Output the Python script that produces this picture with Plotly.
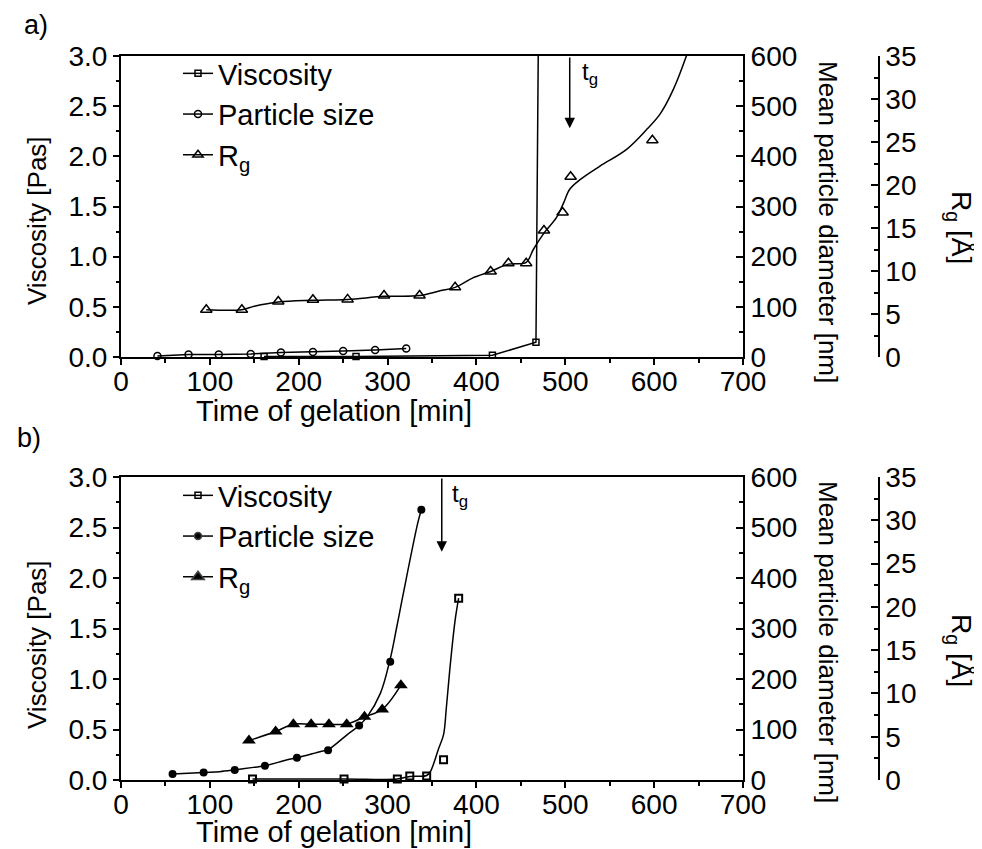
import plotly.graph_objects as go

# ---------------- Panel a data ----------------
a_visc_t = [161, 264.5, 418, 467]
a_visc_v = [0.005, 0.005, 0.017, 0.147]
a_visc_line_t = [161, 264.5, 418, 467, 470]
a_visc_line_v = [0.005, 0.005, 0.017, 0.147, 3.5]

a_size_t = [41, 76, 110, 146, 180, 216, 250, 286, 321]
a_size_d = [2, 5, 5, 6, 9, 10, 12, 14, 17]

a_rg_t = [96, 136, 177, 216, 255, 296, 336, 376, 416, 436, 456, 476, 497, 506, 598]
a_rg_r = [5.5, 5.5, 6.45, 6.65, 6.7, 7.15, 7.15, 8.1, 9.95, 10.9, 10.9, 14.7, 16.8, 20.95, 25.2]
a_rg_fit_t = [96, 136, 150, 177, 216, 255, 296, 336, 359, 376, 396, 416, 436, 456, 464, 476,
              490, 498, 505, 517, 539, 569, 592, 607, 622, 639]
a_rg_fit_r = [5.5, 5.5, 5.9, 6.4, 6.6, 6.7, 7.05, 7.15, 7.7, 8.1, 9.2, 9.95, 10.8, 11.0, 12.5, 14.4,
              16.2, 17.9, 19.5, 20.65, 22.2, 24.15, 26.5, 28.3, 31.2, 35.8]

# ---------------- Panel b data ----------------
b_visc_t = [148, 251, 311, 325, 344, 363, 380]
b_visc_v = [0.01, 0.01, 0.01, 0.04, 0.04, 0.2, 1.8]
b_visc_line_t = [148, 251, 311, 325, 344, 348, 352, 357, 363, 366, 370, 376, 380]
b_visc_line_v = [0.01, 0.01, 0.01, 0.035, 0.045, 0.08, 0.165, 0.3, 0.45, 0.7, 1.09, 1.58, 1.8]

b_size_t = [58, 93, 128, 162, 198, 233, 268, 303, 338]
b_size_d = [12, 15, 20, 28, 44, 59, 108, 234, 535]
b_size_line_t = [58, 93, 111, 128, 149, 162, 187, 198, 224, 233, 254, 268, 277, 292, 303, 310, 317, 334, 338]
b_size_line_d = [12, 15, 16.5, 20, 25, 28, 40, 44, 56, 60, 89, 108, 125, 172, 240, 300, 363, 509, 535]

b_rg_t = [144, 174, 194, 214, 234, 254, 274, 294, 315]
b_rg_r = [4.55, 5.6, 6.45, 6.45, 6.45, 6.45, 7.3, 8.15, 10.95]

x_ticks = [0, 100, 200, 300, 400, 500, 600, 700]

FONT = "Liberation Sans, Arial, sans-serif"
TICK = 28
BLACK = "black"

# the page body adds an 8px margin, so the figure is drawn 8px smaller and
# all page-pixel positions below are shifted by that offset
OFF = 8
W, H = 982 - OFF, 849 - OFF
def px(x):
    return (x - OFF) / W
def py(y):
    return 1 - (y - OFF) / H

X_DOM = [px(121), px(743)]
A_DOM = [py(357), py(56)]
B_DOM = [py(780), py(477)]
RG_POS = px(879)

fig = go.Figure()

line_style = dict(color=BLACK, width=1.5)

# ---- panel a traces ----
fig.add_trace(go.Scatter(x=a_visc_line_t, y=a_visc_line_v, mode="lines", line=line_style,
                         xaxis="x", yaxis="y", showlegend=False, hoverinfo="skip"))
fig.add_trace(go.Scatter(x=a_visc_t, y=a_visc_v, mode="markers", name="Viscosity",
                         marker=dict(symbol="square-open", size=6, color=BLACK, line=dict(width=1.5)),
                         xaxis="x", yaxis="y", showlegend=False, cliponaxis=False))
fig.add_trace(go.Scatter(x=a_size_t, y=a_size_d, mode="lines+markers", name="Particle size",
                         line=line_style,
                         marker=dict(symbol="circle-open", size=7, color=BLACK, line=dict(width=1.5)),
                         xaxis="x", yaxis="y2", showlegend=False, cliponaxis=False))
fig.add_trace(go.Scatter(x=a_rg_fit_t, y=a_rg_fit_r, mode="lines", line=line_style,
                         xaxis="x", yaxis="y3", showlegend=False, hoverinfo="skip", line_shape="spline"))
fig.add_trace(go.Scatter(x=a_rg_t, y=a_rg_r, mode="markers", name="R<sub>g</sub>",
                         marker=dict(symbol="triangle-up-open", size=10, color=BLACK, line=dict(width=1.5)),
                         xaxis="x", yaxis="y3", showlegend=False))

# legend entries panel a
for nm, sym, sz in [("Viscosity", "square-open", 6), ("Particle size", "circle-open", 7),
                    ("R<sub>g</sub>", "triangle-up-open", 9)]:
    fig.add_trace(go.Scatter(x=[None], y=[None], mode="lines+markers", name=nm, line=line_style,
                             marker=dict(symbol=sym, size=sz, color=BLACK, line=dict(width=1.5)),
                             xaxis="x", yaxis="y", legend="legend", showlegend=True))

# ---- panel b traces ----
fig.add_trace(go.Scatter(x=b_visc_line_t, y=b_visc_line_v, mode="lines", line=line_style,
                         xaxis="x2", yaxis="y4", showlegend=False, hoverinfo="skip", line_shape="spline"))
fig.add_trace(go.Scatter(x=b_visc_t, y=b_visc_v, mode="markers", name="Viscosity",
                         marker=dict(symbol="square-open", size=7, color=BLACK, line=dict(width=2)),
                         xaxis="x2", yaxis="y4", showlegend=False, cliponaxis=False))
fig.add_trace(go.Scatter(x=b_size_line_t, y=b_size_line_d, mode="lines", line=line_style,
                         xaxis="x2", yaxis="y5", showlegend=False, hoverinfo="skip", line_shape="spline"))
fig.add_trace(go.Scatter(x=b_size_t, y=b_size_d, mode="markers", name="Particle size",
                         marker=dict(symbol="circle", size=8, color=BLACK),
                         xaxis="x2", yaxis="y5", showlegend=False))
fig.add_trace(go.Scatter(x=b_rg_t, y=b_rg_r, mode="lines+markers", name="R<sub>g</sub>",
                         line=line_style, line_shape="spline",
                         marker=dict(symbol="triangle-up", size=12, color=BLACK),
                         xaxis="x2", yaxis="y6", showlegend=False))

for nm, sym, sz in [("Viscosity", "square-open", 6), ("Particle size", "circle", 7),
                    ("R<sub>g</sub>", "triangle-up", 11)]:
    fig.add_trace(go.Scatter(x=[None], y=[None], mode="lines+markers", name=nm, line=line_style,
                             marker=dict(symbol=sym, size=sz, color=BLACK, line=dict(width=1.5)),
                             xaxis="x2", yaxis="y4", legend="legend2", showlegend=True))

tickfont = dict(family=FONT, size=TICK, color=BLACK)

def xaxis_cfg(anchor):
    return dict(domain=X_DOM, anchor=anchor, range=[0, 700], tickvals=x_ticks,
                ticks="outside", ticklen=6, tickwidth=1.5, tickcolor=BLACK,
                minor=dict(dtick=50, ticks="outside", ticklen=4, tickwidth=1.5, tickcolor=BLACK),
                showline=True, linecolor=BLACK, linewidth=2, mirror=True, automargin=False,
                showgrid=False, zeroline=False, tickfont=tickfont, fixedrange=True)

def left_cfg(dom, anchor):
    return dict(domain=dom, anchor=anchor, range=[0, 3], dtick=0.5, tickformat=".1f",
                ticks="outside", ticklen=6, tickwidth=1.5, tickcolor=BLACK,
                minor=dict(dtick=0.25, ticks="outside", ticklen=3, tickwidth=1.5, tickcolor=BLACK),
                showline=True, linecolor=BLACK, linewidth=2, showgrid=False, zeroline=False,
                automargin=False, tickfont=tickfont)

def diam_cfg(over, anchor):
    return dict(overlaying=over, anchor=anchor, side="right", range=[0, 600], dtick=100,
                ticks="inside", ticklen=7, tickwidth=1.5, tickcolor=BLACK,
                minor=dict(dtick=50, ticks="inside", ticklen=4, tickwidth=1.5, tickcolor=BLACK),
                showline=True, linecolor=BLACK, linewidth=2, showgrid=False, zeroline=False,
                automargin=False, tickfont=tickfont)

def rg_cfg(over):
    return dict(overlaying=over, anchor="free", position=RG_POS, side="right", range=[0, 35], dtick=5,
                ticks="inside", ticklen=7, tickwidth=1.5, tickcolor=BLACK,
                minor=dict(dtick=2.5, ticks="inside", ticklen=4, tickwidth=1.5, tickcolor=BLACK),
                showline=True, linecolor=BLACK, linewidth=1.5, showgrid=False, zeroline=False,
                automargin=False, tickfont=tickfont)

annots = []
def add_text(text, x, y, size=27, angle=0, xanchor="center", yanchor="middle"):
    annots.append(dict(text=text, x=px(x), y=py(y), xref="paper", yref="paper", showarrow=False,
                       textangle=angle, xanchor=xanchor, yanchor=yanchor,
                       font=dict(family=FONT, size=size, color=BLACK)))

# panel labels
add_text("a)", 36, 25, size=27)
add_text("b)", 29, 438, size=27)
# axis titles panel a
add_text("Time of gelation [min]", 334, 411, size=29)
add_text("Viscosity [Pas]", 37, 221, size=26, angle=-90)
add_text("Mean particle diameter [nm]", 828, 222, size=26, angle=90)
add_text("R<sub>g</sub> [Å]", 960, 227, size=28, angle=90)
# axis titles panel b
add_text("Time of gelation [min]", 334, 832, size=29)
add_text("Viscosity [Pas]", 37, 645, size=26, angle=-90)
add_text("Mean particle diameter [nm]", 828, 642, size=26, angle=90)
add_text("R<sub>g</sub> [Å]", 960, 650, size=28, angle=90)

# gelation-time arrows
for xr, yr, t, ytop, ytip, tx, ty in [("x", "y", 505, 3.0, 2.28, 516, 2.83),
                                     ("x2", "y4", 361, 3.0, 2.26, 370, 2.82)]:
    annots.append(dict(x=t, y=ytip, ax=t, ay=ytop, xref=xr, yref=yr, axref=xr, ayref=yr,
                       showarrow=True, arrowhead=2, arrowsize=1.4, arrowwidth=1.5, arrowcolor=BLACK,
                       text=""))
    annots.append(dict(x=tx, y=ty, xref=xr, yref=yr, text="t<sub>g</sub>", showarrow=False,
                       xanchor="left", yanchor="middle",
                       font=dict(family=FONT, size=24, color=BLACK)))

legend_font = dict(family=FONT, size=29, color=BLACK)

fig.update_layout(
    width=W, height=H, margin=dict(l=0, r=0, t=0, b=0, autoexpand=False),
    paper_bgcolor="white", plot_bgcolor="white",
    font=dict(family=FONT, color=BLACK),
    xaxis=xaxis_cfg("y"),
    yaxis=left_cfg(A_DOM, "x"),
    yaxis2=diam_cfg("y", "x"),
    yaxis3=rg_cfg("y"),
    xaxis2=xaxis_cfg("y4"),
    yaxis4=left_cfg(B_DOM, "x2"),
    yaxis5=diam_cfg("y4", "x2"),
    yaxis6=rg_cfg("y4"),
    legend=dict(x=px(178), y=py(48), xanchor="left", yanchor="top", font=legend_font,
                bgcolor="rgba(0,0,0,0)", tracegroupgap=0, itemclick=False),
    legend2=dict(x=px(178), y=py(470), xanchor="left", yanchor="top", font=legend_font,
                 bgcolor="rgba(0,0,0,0)", tracegroupgap=0, itemclick=False),
    annotations=annots,
    showlegend=True,
)

# pull the x tick labels a little closer to the axis, if this plotly allows it
try:
    fig.update_xaxes(ticklabelstandoff=-8)
except Exception:
    pass

fig.write_html("out.html")
